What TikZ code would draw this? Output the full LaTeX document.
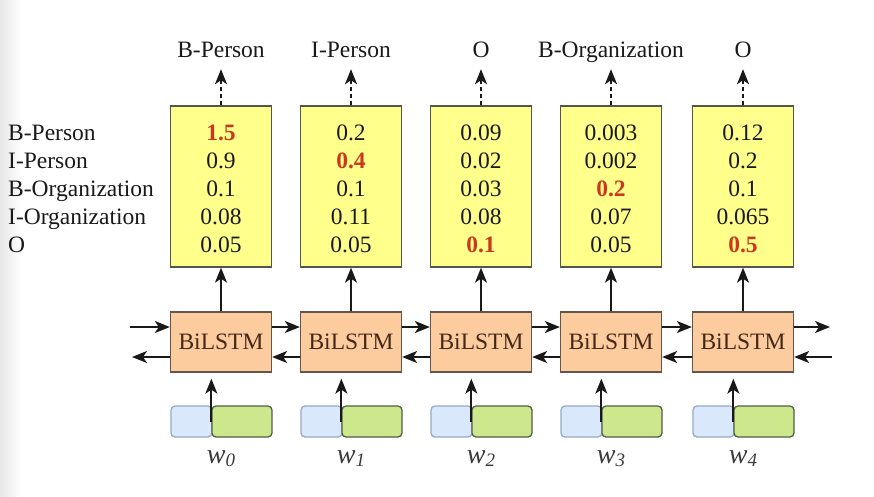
\documentclass[tikz,border=0pt]{standalone}
\usepackage{fontspec}
\setmainfont{Liberation Serif}
\usetikzlibrary{arrows.meta}
\definecolor{ink}{RGB}{25,25,25}
\definecolor{hired}{RGB}{205,55,30}
\definecolor{yfill}{RGB}{255,255,140}
\definecolor{ydraw}{RGB}{85,85,80}
\definecolor{ofill}{RGB}{252,204,158}
\definecolor{odraw}{RGB}{100,85,75}
\definecolor{otext}{RGB}{70,40,25}
\definecolor{bfill}{RGB}{218,232,252}
\definecolor{bdraw}{RGB}{150,170,195}
\definecolor{gfill}{RGB}{205,232,140}
\definecolor{gdraw}{RGB}{80,95,70}
\newcommand{\hival}[1]{\textcolor{hired}{\bfseries #1}}
\newcommand{\wlab}[1]{\textit{w}\raisebox{-0.3ex}{\fontsize{19}{19}\selectfont\textit{#1}}}
\begin{document}
\begin{tikzpicture}[x=1pt,y=-1pt,
  txt/.style={font=\fontsize{23.5}{28}\selectfont, text=ink, inner sep=0pt, text depth=0pt, anchor=base},
  ybox/.style={draw=ydraw, fill=yfill, line width=1.3pt, minimum width=101pt, minimum height=161pt, inner sep=0pt},
  lbox/.style={draw=odraw, fill=ofill, line width=1.3pt, minimum width=101pt, minimum height=60pt, inner sep=0pt,
     font=\fontsize{23.5}{28}\selectfont, text=otext},
  ebl/.style={draw=bdraw, fill=bfill, line width=1.3pt, rounded corners=4pt, minimum width=41pt, minimum height=31pt, inner sep=0pt},
  egr/.style={draw=gdraw, fill=gfill, line width=1.3pt, rounded corners=4pt, minimum width=60pt, minimum height=31pt, inner sep=0pt},
  arr/.style={draw=ink, line width=1.8pt, -{Stealth[length=15pt,width=12pt,inset=4pt]}},
  wl/.style={font=\fontsize{28}{30}\selectfont, text=ink!85, inner sep=0pt, anchor=base}
]
\useasboundingbox (0,0) rectangle (874,496);
\shade[left color={rgb,255:red,232;green,232;blue,232}, right color=white] (0,0) rectangle (22,496);

% row labels
\node[txt, anchor=base west] (r1) at (8,140) {B-Person};
\node[txt, anchor=base west] (r2) at (8,168) {I-Person};
\node[txt, anchor=base west] (r3) at (8,196) {B-Organization};
\node[txt, anchor=base west] (r4) at (8,224) {I-Organization};
\node[txt, anchor=base west] (r5) at (8,252) {O};

\foreach \i/\cx/\lab/\va/\vb/\vc/\vd/\ve in {
  0/221/{B-Person}/{\hival{1.5}}/{0.9}/{0.1}/{0.08}/{0.05},
  1/351/{I-Person}/{0.2}/{\hival{0.4}}/{0.1}/{0.11}/{0.05},
  2/481/{O}/{0.09}/{0.02}/{0.03}/{0.08}/{\hival{0.1}},
  3/611/{B-Organization}/{0.003}/{0.002}/{\hival{0.2}}/{0.07}/{0.05},
  4/743/{O}/{0.12}/{0.2}/{0.1}/{0.065}/{\hival{0.5}}}{
  \node[ybox] (y\i) at (\cx,186.5) {};
  \node[txt] (t\i) at (\cx,57) {\lab};
  \node[txt] (va\i) at (\cx,140) {\va};
  \node[txt] (vb\i) at (\cx,168) {\vb};
  \node[txt] (vc\i) at (\cx,196) {\vc};
  \node[txt] (vd\i) at (\cx,224) {\vd};
  \node[txt] (ve\i) at (\cx,252) {\ve};
  \node[lbox] (b\i) at (\cx,342) {BiLSTM};
  \node[ebl] (eb\i) at (\cx-29.5,421.5) {};
  \node[egr] (eg\i) at (\cx+21,421.5) {};
  \node[wl] (w\i) at (\cx,463) {\wlab{\i}};
  \draw[arr, dash pattern=on 4pt off 3pt, shorten >=12pt] (y\i.north) -- (t\i.south);
  \draw[arr] (b\i.north) -- (y\i.south);
  \draw[arr, shorten >=6pt] (eg\i.west) -- (eg\i.west |- b\i.south);
}

\foreach \a/\b in {0/1,1/2,2/3,3/4}{
  \draw[arr] ([yshift=15pt]b\a.east) -- ([yshift=15pt]b\b.west);
  \draw[arr] ([yshift=-15pt]b\b.west) -- ([yshift=-15pt]b\a.east);
}
\coordinate (lin) at (130,327);
\coordinate (lout) at (132,357);
\coordinate (rout) at (830,327);
\coordinate (rin) at (832,357);
\draw[arr] (lin) -- (lin -| b0.west);
\draw[arr] (lout -| b0.west) -- (lout);
\draw[arr] (rout -| b4.east) -- (rout);
\draw[arr] (rin) -- (rin -| b4.east);
\end{tikzpicture}
\end{document}
